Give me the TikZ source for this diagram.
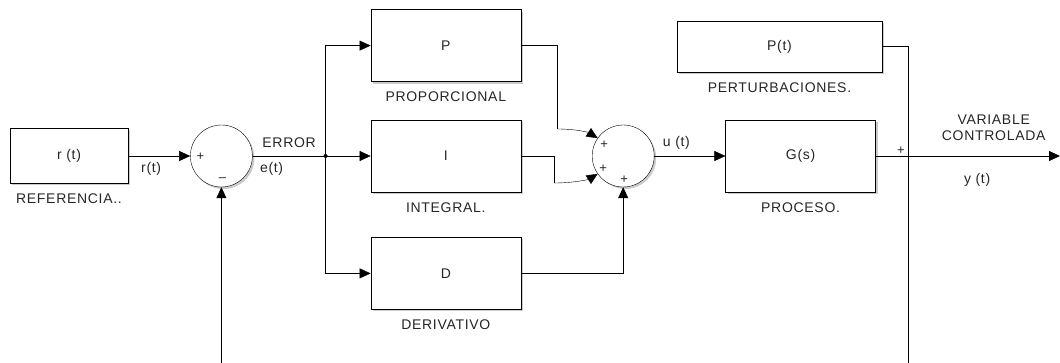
\documentclass[tikz,border=0pt]{standalone}
\usepackage{fontspec}
\setmainfont{Liberation Sans}[LetterSpace=5]
\usetikzlibrary{positioning,arrows.meta,shadows}
\tikzset{
>={Triangle[length=11pt,width=10pt]},
line width=1.2pt,
every node/.style={font=\fontsize{14}{16}\selectfont, text=black!85},
block/.style={draw, fill=white, minimum width=150pt, minimum height=72pt,
  drop shadow={shadow xshift=2pt, shadow yshift=-2pt, fill=black!45, opacity=0.45}},
sumnode/.style={circle, draw, fill=white, minimum size=62pt,
  drop shadow={shadow xshift=2pt, shadow yshift=-2pt, fill=black!45, opacity=0.45}},
caption/.style={inner sep=2pt},
sign/.style={font=\fontsize{13}{14}\selectfont, inner sep=0pt},
}

\begin{document}
\begin{tikzpicture}[x=1pt,y=1pt]
        \useasboundingbox (0,0) rectangle (1060,-363);

        \node[block, minimum width=118pt, minimum height=55pt] (rt) at (69,-156) {r (t)};
        \node[sumnode, right=62pt of rt] (sum1) {};
        \coordinate[right=73pt of sum1] (br);
        \node[block, right=45pt of br] (I) {I};
        \node[block, above=38pt of I] (P) {P};
        \node[block, below=45pt of I] (D) {D};
        \node[sumnode, right=71pt of I] (sum2) {};
        \node[block, right=71pt of sum2] (G) {G(s)};
        \node[block, minimum width=205pt, minimum height=51pt] (Pt) at (779.5,-46.5) {P(t)};

        \node[caption, below=8pt of rt] (lref) {REFERENCIA..};
        \node[caption, below=8pt of P] (lprop) {PROPORCIONAL};
        \node[caption, below=8pt of I] (lint) {INTEGRAL.};
        \node[caption, below=8pt of D] (lder) {DERIVATIVO};
        \node[caption, below=8pt of G] (lproc) {PROCESO.};
        \node[caption, below=8pt of Pt] (lpert) {PERTURBACIONES.};

        \coordinate (yout) at (1060,-156);
        \coordinate (pend) at (908,-363);
        \coordinate (fbk) at (sum1 |- 0,-363);
        \coordinate (pbend) at (557,-129);
        \coordinate (ibend) at (554,-183);

        % lazo principal
        \draw[->] (rt) -- node[pos=0.37, below=3pt]{r(t)} (sum1);
        \draw (sum1) -- node[above=5pt]{ERROR} node[pos=0.26, below=3pt]{e(t)} (br);
        \fill (br) circle (2pt);
        \draw[->] (br) |- (P);
        \draw[->] (br) -- (I);
        \draw[->] (br) |- (D);
        \draw (P.east) -| (pbend);
        \draw[->] (pbend) .. controls +(22,0) and +(-8,5) .. (sum2.145);
        \draw (I.east) -| (ibend);
        \draw[->] (ibend) .. controls +(22,0) and +(-8,-5) .. (sum2.215);
        \draw[->] (D.east) -| (sum2.south);
        \draw[->] (sum2) -- node[pos=0.31, above=3pt]{u (t)} (G);
        \draw[->] (G) -- node[pos=0.64, above=12pt, align=center]{VARIABLE\\CONTROLADA}
                         node[pos=0.55, below=14pt]{y (t)} (yout);
        \draw (Pt.east) -| (pend);
        \draw[->] (fbk) -- (sum1.south);

        % signos
        \node[sign] at ([shift={(-21,-1)}]sum1.center) {+};
        \node[sign] at ([shift={(1,-24)}]sum1.center) {--};
        \node[sign] at ([shift={(-19,11)}]sum2.center) {+};
        \node[sign] at ([shift={(-20,-13)}]sum2.center) {+};
        \node[sign] at ([shift={(1,-24)}]sum2.center) {+};
        \node[sign] at ([shift={(25,5)}]G.east) {+};

    \end{tikzpicture}
\end{document}
